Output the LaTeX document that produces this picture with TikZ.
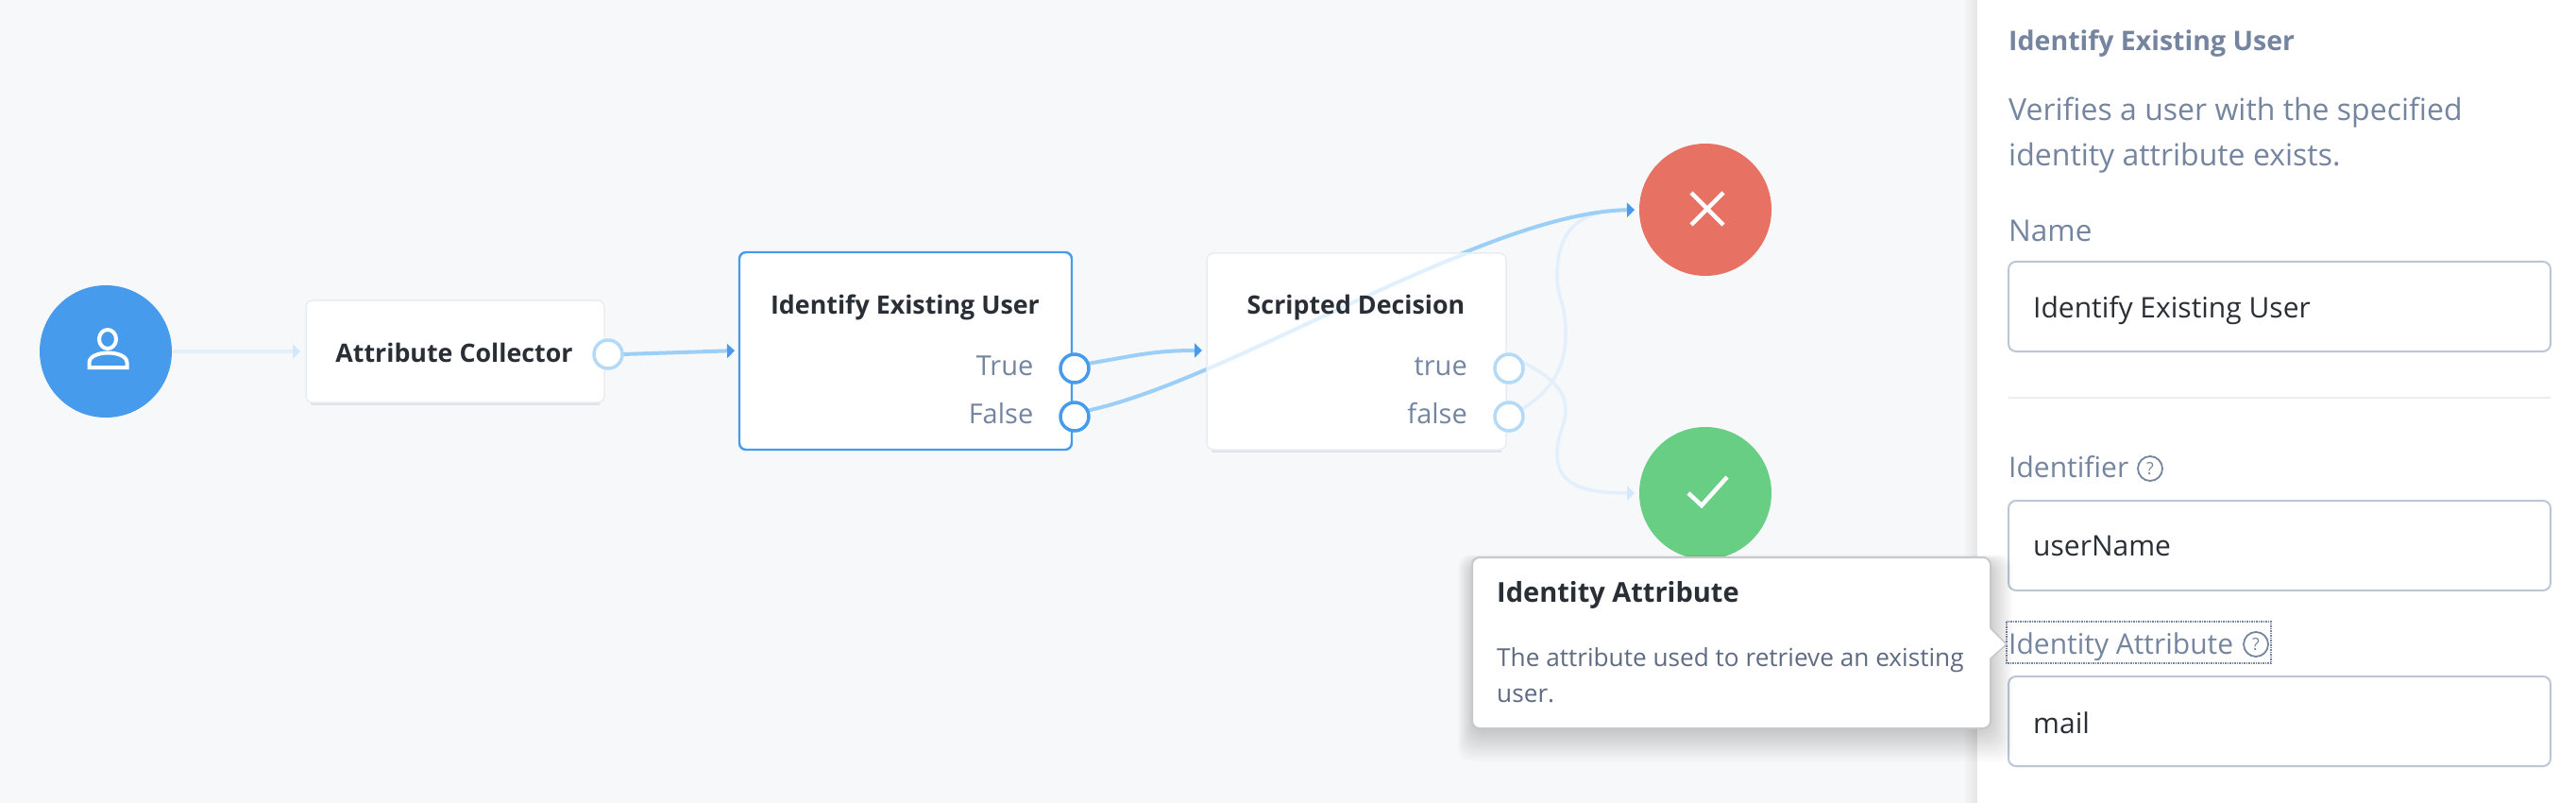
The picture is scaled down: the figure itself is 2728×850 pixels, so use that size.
\documentclass[tikz,border=0pt]{standalone}
\usepackage{fontspec}
\setmainfont{Open Sans}
\newcommand{\semib}{\bfseries}
\usetikzlibrary{arrows.meta,shadings}
\definecolor{pagebg}{HTML}{F7F8FA}
\definecolor{ink}{HTML}{2A2F36}
\definecolor{slate}{HTML}{7585A0}
\definecolor{bodyink}{HTML}{5F6B80}
\definecolor{accent}{HTML}{469BEC}
\definecolor{edgeon}{HTML}{9CCFF7}
\definecolor{edgepale}{HTML}{E0F0FF}
\definecolor{edgeoff}{HTML}{E3F0FB}
\definecolor{headoff}{HTML}{D5E8FA}
\definecolor{portoff}{HTML}{B5DAF7}
\definecolor{boxedge}{HTML}{E9ECF1}
\definecolor{boxshade}{HTML}{DFE4EA}
\definecolor{inputedge}{HTML}{BCC7D6}
\definecolor{redc}{HTML}{E77163}
\definecolor{greenc}{HTML}{68CE83}
\definecolor{tipedge}{HTML}{C6C8CC}
\tikzset{
  x=1pt,y=-1pt,
  round/.style={circle,minimum size=140pt,inner sep=0pt,outer sep=0pt},
  nodebox/.style={rectangle,rounded corners=7pt,draw=boxedge,line width=1.5pt,inner sep=0pt,outer sep=0pt,fill=white,anchor=north west},
  selbox/.style={nodebox,draw=accent,line width=2.4pt},
  portshape/.style={circle,minimum size=30pt,inner sep=0pt,outer sep=0pt},
  portoffs/.style={portshape,fill=white,draw=portoff,line width=3.5pt},
  porton/.style={portshape,fill=white,draw=accent,line width=3.5pt},
  title/.style={font=\fontsize{26.8}{34}\selectfont\semib,text=ink,anchor=base,inner sep=0pt},
  outl/.style={font=\fontsize{29}{34}\selectfont,text=slate,anchor=base east,inner sep=0pt},
  ptxt/.style={text=slate,anchor=base west,inner sep=0pt},
  inputbox/.style={rectangle,rounded corners=8pt,draw=inputedge,line width=2pt,fill=white,inner sep=0pt,outer sep=0pt,anchor=north west},
  inputtxt/.style={font=\fontsize{30}{36}\selectfont,text=ink,anchor=base west,inner sep=0pt},
  helpq/.style={circle,draw=slate,line width=1.8pt,minimum size=26pt,inner sep=0pt,text=slate,font=\fontsize{18}{18}\selectfont},
  edgeOn/.style={draw=edgeon,line width=4pt,-{Triangle[length=8pt,width=15pt,color=accent]}},
  edgeOff/.style={draw=edgeoff,line width=3.5pt,-{Triangle[length=8pt,width=15pt,color=headoff]}},
  glyph/.style={draw=white,line width=4.5pt},
  underline/.style={draw=boxshade,line width=3pt,line cap=round}
}
\begin{document}
\begin{tikzpicture}
\useasboundingbox (0,0) rectangle (2728,850);
\fill[pagebg] (0,0) rectangle (2728,850);
% panel
\shade[left color=pagebg,right color=black!10] (2078,0) rectangle (2094,850);
\fill[white] (2094,0) rectangle (2728,850);

% circles
\node[round,fill=accent] (start) at (112,372) {};
\node[round,fill=redc] (fail) at (1806,222) {};
\node[round,fill=greenc] (ok) at (1806,522) {};

% port positions
\node[portshape] (acp) at (644,375) {};
\node[portshape] (ietp) at (1138,390) {};
\node[portshape] (iefp) at (1138,441) {};
\node[portshape] (sdtp) at (1598,390) {};
\node[portshape] (sdfp) at (1598,441) {};
\coordinate (acIn) at (324,372);
\coordinate (ieIn) at (783,371);
\coordinate (sdIn) at (1278,371);

% light edges
\draw[edgeOff,shorten >=6pt] (start.east) -- (acIn);
\draw[edgeOff,shorten >=5pt] (sdfp.30) .. controls (1650,410) and (1658,380) .. (1658,353)
   .. controls (1658,320) and (1649,315) .. (1649,293)
   .. controls (1649,245) and (1670,222) .. (fail.west);
\draw[edgeOff,shorten >=5pt] (sdtp.30) .. controls (1645,400) and (1658,415) .. (1658,433)
   .. controls (1658,450) and (1649,460) .. (1649,480)
   .. controls (1649,510) and (1670,522) .. (ok.west);
% active edges
\draw[edgeOn,shorten >=5pt] (acp.east) -- (ieIn);
\draw[edgeOn,shorten >=5pt] (ietp.20) .. controls (1200,377) and (1220,371) .. (sdIn);
\draw[edgeOn,shorten >=5pt] (iefp.25) .. controls (1310,400) and (1570,225) .. (fail.west);

% boxes
\draw[underline] (330,427.5) -- (634,427.5);
\draw[underline] (1284,477.5) -- (1589,477.5);
\node[nodebox,minimum width=316pt,minimum height=108pt] (collector) at (324,318) {};
\node[selbox,minimum width=352pt,minimum height=209pt] (identify) at (783,267) {};
\node[nodebox,minimum width=317pt,minimum height=208pt] (scripted) at (1278,268) {};
% the edge seen through the translucent Scripted Decision box
\begin{scope}
  \clip (scripted.north west) rectangle (scripted.south east);
  \draw[edgepale,line width=4pt] (iefp.25) .. controls (1310,400) and (1570,225) .. (fail.west);
\end{scope}
\node[title] (tc) at (481,383) {Attribute Collector};
\node[title] (ti) at (958.5,332) {Identify Existing User};
\node[title] (ts) at (1436,332) {Scripted Decision};
\node[outl] (lT) at (1094.5,397) {True};
\node[outl] (lF) at (1094.5,448) {False};
\node[outl] (lt) at (1554,397) {true};
\node[outl] (lf) at (1554,448) {false};

% ports
\node[portoffs] (acport) at (acp) {};
\node[porton] (ietport) at (ietp) {};
\node[porton] (iefport) at (iefp) {};
\node[portoffs] (sdtport) at (sdtp) {};
\node[portoffs] (sdfport) at (sdfp) {};

% icons
\draw[glyph,line width=4pt] (114,359) ellipse (9pt and 10pt);
\draw[glyph,line width=4pt,line join=miter] (94.5,389) -- (94.5,384) .. controls (94.5,370) and (134.5,370) .. (134.5,384) -- (134.5,389) -- cycle;
\draw[glyph] (1791,204) -- (1825,238);
\draw[glyph] (1825,204) -- (1791,238);
\draw[glyph] (1788,522) -- (1802,535) -- (1829,505);

% right panel
\node[ptxt,font=\fontsize{28.5}{36}\selectfont\semib] (ptitle) at (2127,54) {Identify Existing User};
\node[ptxt,font=\fontsize{32}{40}\selectfont] (pd1) at (2127,128) {Verifies a user with the specified};
\node[ptxt,font=\fontsize{32}{40}\selectfont] (pd2) at (2127,176) {identity attribute exists.};
\node[ptxt,font=\fontsize{31.5}{38}\selectfont] (pname) at (2127,256) {Name};
\node[inputbox,minimum width=574pt,minimum height=95pt] (inName) at (2127,277) {};
\node[inputtxt] (vName) at (2153,336) {Identify Existing User};
\draw[draw=boxedge,line width=2pt] (2127,421) -- (2701,421);
\node[ptxt,font=\fontsize{30}{38}\selectfont] (pident) at (2127,505) {Identifier};
\node[helpq] (h1) at (2277,496) {?};
\node[inputbox,minimum width=574pt,minimum height=95pt] (inId) at (2127,530) {};
\node[inputtxt] (vId) at (2153,588) {userName};
\node[ptxt,font=\fontsize{30}{38}\selectfont] (pattr) at (2127,692) {Identity Attribute};
\node[helpq] (h2) at (2389,682) {?};
\draw[slate,line width=1.5pt,densely dotted] (2125,658) rectangle (2405,702);
\node[inputbox,minimum width=574pt,minimum height=95pt] (inMail) at (2127,716) {};
\node[inputtxt] (vMail) at (2153,776) {mail};

% tooltip shadow
\foreach \i in {1,...,26}{
  \fill[black,opacity=.006,rounded corners=14pt] ({1562-.7*\i},{596-.35*\i}) rectangle ({2106+1*\i},{770+1.4*\i});
}
% tooltip
\node[rectangle,rounded corners=8pt,draw=tipedge,line width=2pt,fill=white,inner sep=0pt,outer sep=0pt,anchor=north west,minimum width=549pt,minimum height=181pt] (tip) at (1559,590) {};
\fill[white] (2107,665) -- (2125,682) -- (2107,697) -- cycle;
\draw[tipedge,line width=1.5pt] (2108,665) -- (2125,682) -- (2108,697);
\node[title,anchor=base west,font=\fontsize{29}{34}\selectfont\semib] (tipT) at (1585,637) {Identity Attribute};
\node[anchor=base west,inner sep=0pt,text=bodyink,font=\fontsize{26.2}{30}\selectfont] (tip1) at (1585,705) {The attribute used to retrieve an existing};
\node[anchor=base west,inner sep=0pt,text=bodyink,font=\fontsize{26.2}{30}\selectfont] (tip2) at (1585,743) {user.};
\end{tikzpicture}
\end{document}
